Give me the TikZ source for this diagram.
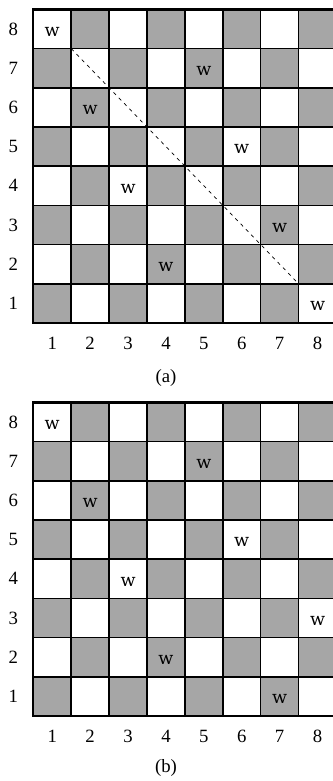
\documentclass[tikz,border=0pt]{standalone}
\usepackage{fontspec}
\setmainfont{Liberation Serif}
\newfontfamily\queenfont{DejaVu Serif}
\usetikzlibrary{positioning}
\tikzset{
      darksq/.style={
        fill=black!35,
        draw=none
      },
      gridline/.style={line width=1.3pt},
      boardedge/.style={line width=2pt},
      queenmark/.style={
        font=\queenfont\fontsize{15}{17}\selectfont,
        inner sep=0pt
      },
      axislabel/.style={
        font=\fontsize{16}{19}\selectfont,
        inner sep=0pt
      },
      diagline/.style={dash pattern=on 3pt off 3.5pt, line width=0.6pt}
    }

\begin{document}
\begin{tikzpicture}[x=0.03cm,y=0.03cm]
    \useasboundingbox (0,0) rectangle (332,781);
    % board (a)
    \begin{scope}[shift={(33.3,458)}, x=1.137cm, y=1.176cm]
      \foreach \c in {1,...,8}
        \foreach \r in {1,...,8} {
          \pgfmathparse{int(mod(\c+\r,2))}
          \ifnum\pgfmathresult=0 \fill[darksq] (\c-1,\r-1) rectangle (\c,\r); \fi
        }
      \foreach \k in {1,...,7} {
        \draw[gridline] (\k,0) -- (\k,8);
        \draw[gridline] (0,\k) -- (8,\k);
      }
      \draw[boardedge] (0,0) rectangle (8,8);
      \foreach \r in {1,...,8}
        \node[axislabel] (a-r\r) at (-0.53,\r-0.5) {\r};
      \foreach \c in {1,...,8}
        \node[axislabel] (a-c\c) at (\c-0.5,-0.53) {\c};
      \foreach \c/\r in {1/8,2/6,3/4,4/2,5/7,6/5,7/3,8/1}
        \node[queenmark] (a-q\c) at (\c-0.5,\r-0.57) {w};
      \coordinate (diagstart) at (1,7);
      \coordinate (diagend) at (7,1);
      \draw[diagline] (diagstart) -- (diagend);
    \end{scope}
    \node[axislabel] (cap-a) at (166,403) {(a)};
    % board (b)
    \begin{scope}[shift={(33.3,65)}, x=1.137cm, y=1.176cm]
      \foreach \c in {1,...,8}
        \foreach \r in {1,...,8} {
          \pgfmathparse{int(mod(\c+\r,2))}
          \ifnum\pgfmathresult=0 \fill[darksq] (\c-1,\r-1) rectangle (\c,\r); \fi
        }
      \foreach \k in {1,...,7} {
        \draw[gridline] (\k,0) -- (\k,8);
        \draw[gridline] (0,\k) -- (8,\k);
      }
      \draw[boardedge] (0,0) rectangle (8,8);
      \foreach \r in {1,...,8}
        \node[axislabel] (b-r\r) at (-0.53,\r-0.5) {\r};
      \foreach \c in {1,...,8}
        \node[axislabel] (b-c\c) at (\c-0.5,-0.53) {\c};
      \foreach \c/\r in {1/8,2/6,3/4,4/2,5/7,6/5,7/1,8/3}
        \node[queenmark] (b-q\c) at (\c-0.5,\r-0.57) {w};
    \end{scope}
    \node[axislabel] (cap-b) at (166,13) {(b)};
\end{tikzpicture}
\end{document}
